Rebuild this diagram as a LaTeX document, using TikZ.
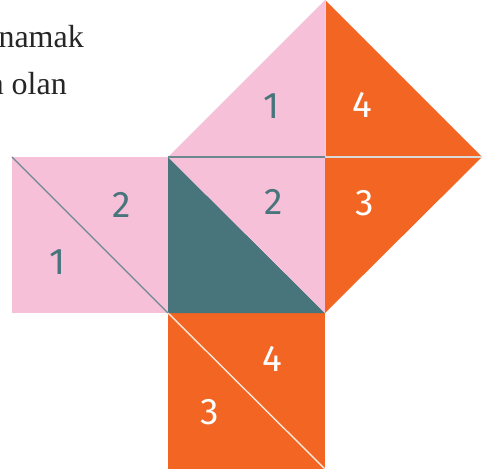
\documentclass[tikz,border=0pt]{standalone}
\usepackage{fontspec}
\setmainfont{Liberation Serif}
\newfontfamily\digitfont{Fira Sans}
\usetikzlibrary{positioning}
\definecolor{pinkfill}{HTML}{F6C0D9}
\definecolor{orangefill}{HTML}{F26522}
\definecolor{tealfill}{HTML}{48757C}
\definecolor{tealline}{HTML}{6E8890}
\definecolor{greyline}{HTML}{D9D9D9}
\definecolor{textgrey}{HTML}{262626}

\begin{document}
\begin{tikzpicture}[x=1pt, y=1pt,
  num/.style={font=\digitfont\fontsize{37}{37}\selectfont, inner sep=0pt, text=#1},
  cut/.style={line width=1.4pt, #1},
  pagetext/.style={inner sep=0pt, text=textgrey, font=\fontsize{32}{38}\selectfont}
]
  \useasboundingbox (0,0) rectangle (489,469);
  \clip (0,0) rectangle (489,469);
  % corners of the pieces
  \coordinate (lt) at (12,312);
  \coordinate (lb) at (12,156);
  \coordinate (p) at (168,312);
  \coordinate (s) at (168,156);
  \coordinate (q) at (325,312);
  \coordinate (u) at (325,156);
  \coordinate (r) at (482,312);
  \coordinate (t) at (325,469);
  \coordinate (bl) at (168,0);
  \coordinate (br) at (325,0);

  % squares and triangles
  \fill[pinkfill] (lb) rectangle (p);
  \fill[orangefill] (bl) rectangle (u);
  \fill[tealfill] (p) -- (s) -- (u) -- cycle;
  \fill[pinkfill] (p) -- (q) -- (u) -- cycle;
  \fill[pinkfill] (p) -- (t) -- (q) -- cycle;
  \fill[orangefill] (t) -- (r) -- (q) -- cycle;
  \fill[orangefill] (q) -- (r) -- (u) -- cycle;

  % cut lines
  \draw[cut=tealline] (lt) -- (s);
  \draw[cut=tealline] (p) -- (q);
  \draw[cut=greyline] (q) -- (r);
  \draw[line width=0.8pt, pinkfill!80!white] (t) -- (q);
  \draw[cut=white!85!orangefill] (s) -- (br);

  % numbers
  \node[num=tealfill] (topone) at (272,363) {1};
  \node[num=white] (topfour) at (362,364) {4};
  \node[num=tealfill] (midtwo) at (274,267) {2};
  \node[num=white] (midthree) at (365,266) {3};
  \node[num=tealfill] (lefttwo) at (122,264) {2};
  \node[num=tealfill] (leftone) at (58,207) {1};
  \node[num=white] (botfour) at (272,110) {4};
  \node[num=white] (botthree) at (210,57) {3};

  % text cut from the page
  \node[pagetext, anchor=base east] (lineone) at (84,421) {namak};
  \node[pagetext, anchor=base east] (linetwo) at (67,374) {a olan};
\end{tikzpicture}
\end{document}
